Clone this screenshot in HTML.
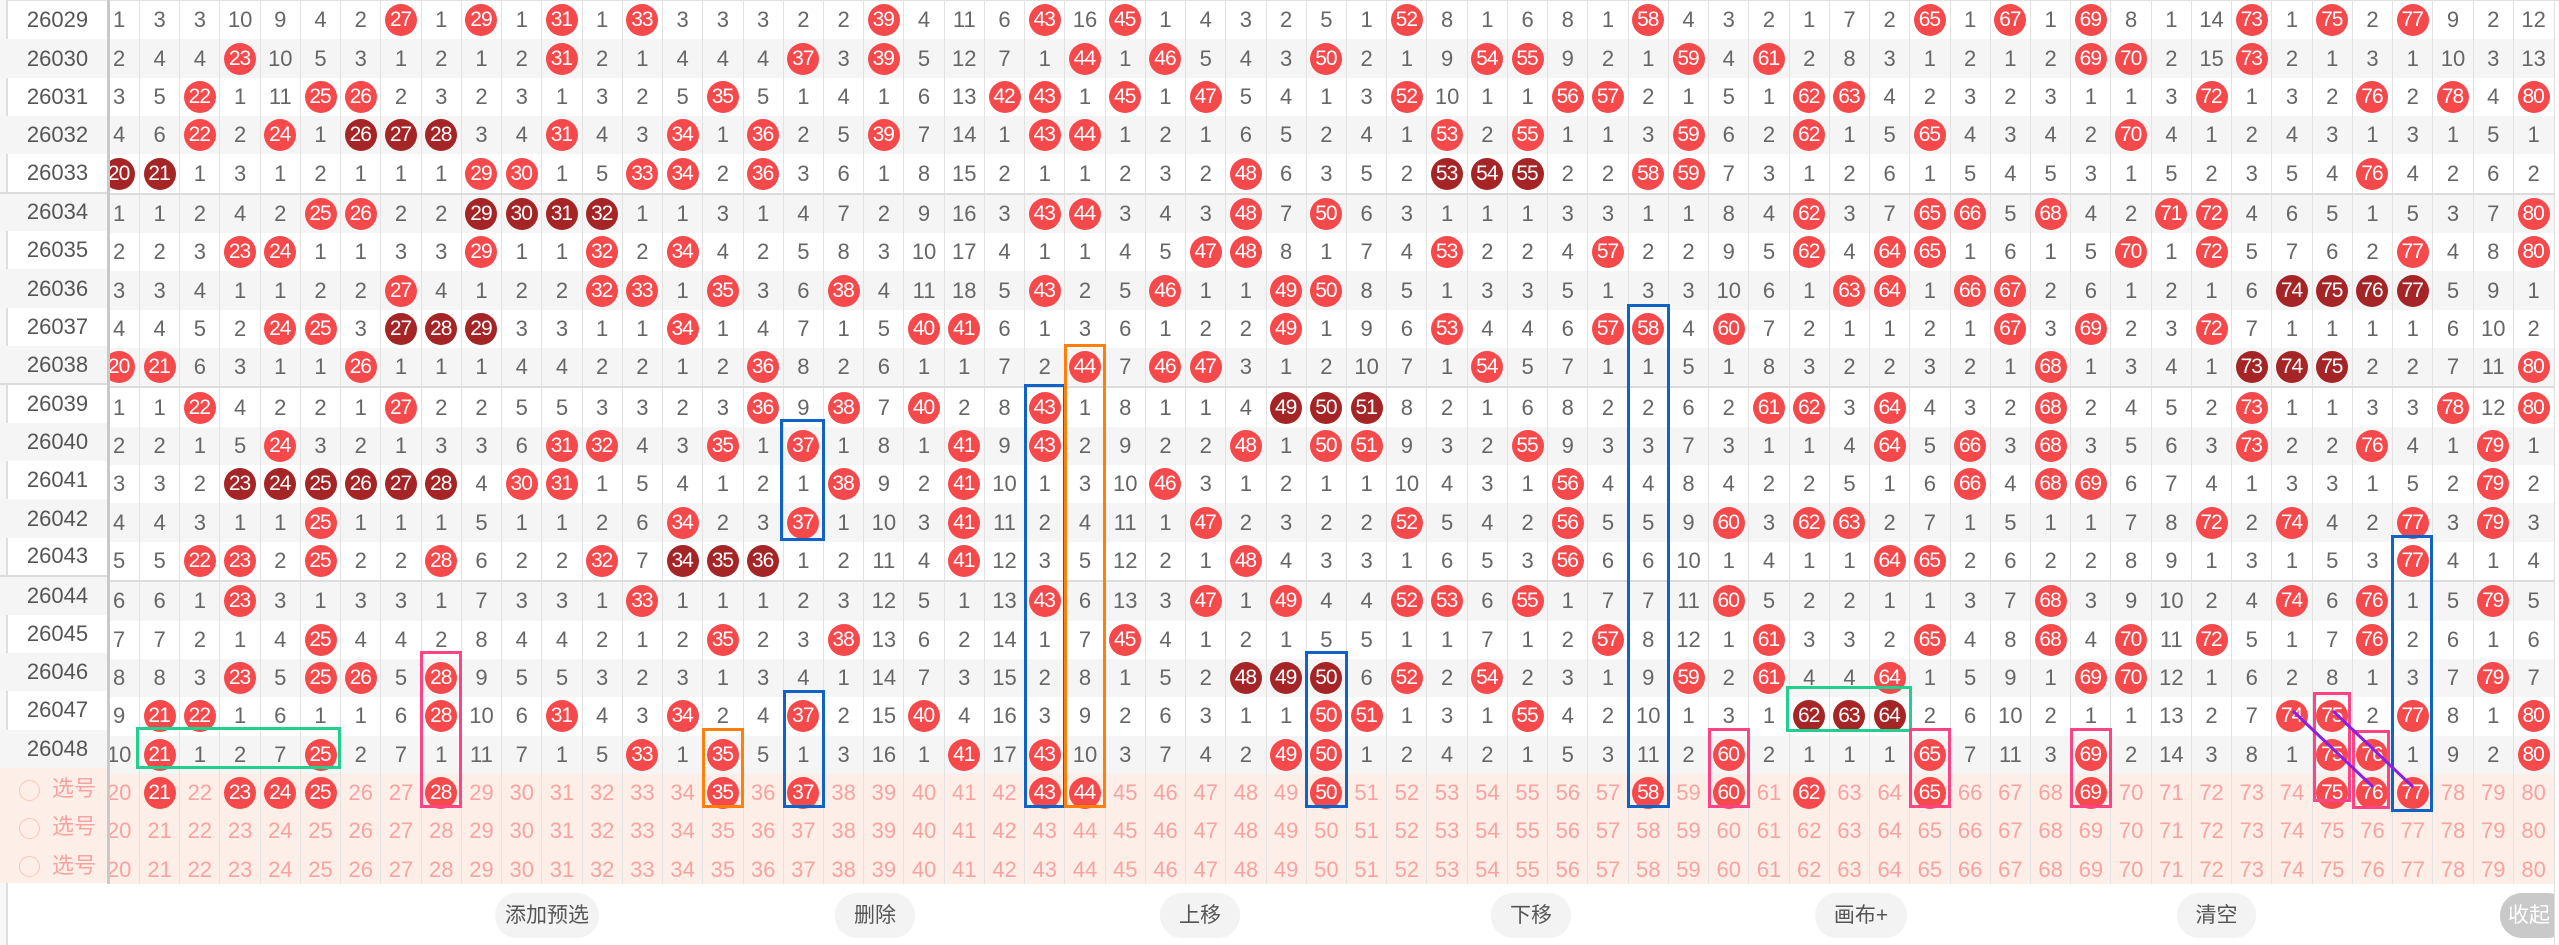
<!DOCTYPE html>
<html><head><meta charset="utf-8"><style>
html,body{margin:0;padding:0}
body{width:2559px;height:945px;background:#fff;position:relative;overflow:hidden;font-family:"Liberation Sans","Noto Sans CJK SC",sans-serif}
table{border-collapse:collapse;table-layout:fixed;position:absolute;border-spacing:0}
#G{position:absolute;left:110px;top:0;width:2445px;height:884px;overflow:hidden}
#D{left:-10.75px;top:1px;width:2455.25px}
#D td{height:38.35px;padding:0;text-align:center;vertical-align:middle;font-size:22px;color:#666;border:0;border-right:1px solid #e2e2e2;white-space:nowrap;overflow:visible}
#L{left:0;top:1px;width:107px}
#L td{width:107px;height:38.35px;padding:0 0 0 8px;box-sizing:border-box;text-align:center;font-size:22px;color:#555;border:0}
tr:nth-child(even){background:#f5f5f5}
tr.p{background:#fdeee8}
tr.p td{color:#f9a3a0 !important}
tr.s td{border-bottom:2px solid #dcdcdc !important}
b,i{display:inline-block;width:32px;height:32px;border-radius:50%;background:#f5494b;color:#fff;font-weight:normal;font-style:normal;line-height:32px;font-size:21px;letter-spacing:-1px;text-indent:-1px;vertical-align:middle}
i{background:#a52426}
.rd{display:inline-block;width:19px;height:19px;border:1.5px solid #fcc6b6;border-radius:50%;vertical-align:middle;margin-right:12px}
.bx{position:absolute;border:3px solid;box-sizing:border-box}
.bl{border-color:#0f63c8}.pk{border-color:#ff4384}.or{border-color:#ff7f0a}.gr{border-color:#22cf8e}
.btn{position:absolute;top:893px;height:45px;line-height:45px;border-radius:22px;background:#f3f3f3;color:#555;font-size:21px;text-align:center}
</style></head><body>
<div style="position:absolute;left:0;top:0;width:2559px;height:1px;background:#e2e2e2"></div>
<div style="position:absolute;left:0;top:0;width:6px;height:945px;background:#f7f7f7"></div>
<div style="position:absolute;left:6px;top:0;width:2px;height:945px;background:#dedede"></div>
<table id="L">
<tr><td>26029</td></tr><tr><td>26030</td></tr><tr><td>26031</td></tr><tr><td>26032</td></tr><tr class="s"><td>26033</td></tr>
<tr><td>26034</td></tr><tr><td>26035</td></tr><tr><td>26036</td></tr><tr><td>26037</td></tr><tr class="s"><td>26038</td></tr>
<tr><td>26039</td></tr><tr><td>26040</td></tr><tr><td>26041</td></tr><tr><td>26042</td></tr><tr class="s"><td>26043</td></tr>
<tr><td>26044</td></tr><tr><td>26045</td></tr><tr><td>26046</td></tr><tr><td>26047</td></tr><tr><td>26048</td></tr>
<tr class="p"><td><span class="rd"></span>选号</td></tr><tr class="p"><td><span class="rd"></span>选号</td></tr><tr class="p"><td><span class="rd"></span>选号</td></tr>
</table>
<div style="position:absolute;left:107px;top:0;width:3px;height:884px;background:#c9c9c9"></div>
<div id="G"><table id="D">
<tr><td>1<td>3<td>3<td>10<td>9<td>4<td>2<td><b>27</b><td>1<td><b>29</b><td>1<td><b>31</b><td>1<td><b>33</b><td>3<td>3<td>3<td>2<td>2<td><b>39</b><td>4<td>11<td>6<td><b>43</b><td>16<td><b>45</b><td>1<td>4<td>3<td>2<td>5<td>1<td><b>52</b><td>8<td>1<td>6<td>8<td>1<td><b>58</b><td>4<td>3<td>2<td>1<td>7<td>2<td><b>65</b><td>1<td><b>67</b><td>1<td><b>69</b><td>8<td>1<td>14<td><b>73</b><td>1<td><b>75</b><td>2<td><b>77</b><td>9<td>2<td>12</tr>
<tr><td>2<td>4<td>4<td><b>23</b><td>10<td>5<td>3<td>1<td>2<td>1<td>2<td><b>31</b><td>2<td>1<td>4<td>4<td>4<td><b>37</b><td>3<td><b>39</b><td>5<td>12<td>7<td>1<td><b>44</b><td>1<td><b>46</b><td>5<td>4<td>3<td><b>50</b><td>2<td>1<td>9<td><b>54</b><td><b>55</b><td>9<td>2<td>1<td><b>59</b><td>4<td><b>61</b><td>2<td>8<td>3<td>1<td>2<td>1<td>2<td><b>69</b><td><b>70</b><td>2<td>15<td><b>73</b><td>2<td>1<td>3<td>1<td>10<td>3<td>13</tr>
<tr><td>3<td>5<td><b>22</b><td>1<td>11<td><b>25</b><td><b>26</b><td>2<td>3<td>2<td>3<td>1<td>3<td>2<td>5<td><b>35</b><td>5<td>1<td>4<td>1<td>6<td>13<td><b>42</b><td><b>43</b><td>1<td><b>45</b><td>1<td><b>47</b><td>5<td>4<td>1<td>3<td><b>52</b><td>10<td>1<td>1<td><b>56</b><td><b>57</b><td>2<td>1<td>5<td>1<td><b>62</b><td><b>63</b><td>4<td>2<td>3<td>2<td>3<td>1<td>1<td>3<td><b>72</b><td>1<td>3<td>2<td><b>76</b><td>2<td><b>78</b><td>4<td><b>80</b></tr>
<tr><td>4<td>6<td><b>22</b><td>2<td><b>24</b><td>1<td><i>26</i><td><i>27</i><td><i>28</i><td>3<td>4<td><b>31</b><td>4<td>3<td><b>34</b><td>1<td><b>36</b><td>2<td>5<td><b>39</b><td>7<td>14<td>1<td><b>43</b><td><b>44</b><td>1<td>2<td>1<td>6<td>5<td>2<td>4<td>1<td><b>53</b><td>2<td><b>55</b><td>1<td>1<td>3<td><b>59</b><td>6<td>2<td><b>62</b><td>1<td>5<td><b>65</b><td>4<td>3<td>4<td>2<td><b>70</b><td>4<td>1<td>2<td>4<td>3<td>1<td>3<td>1<td>5<td>1</tr>
<tr class="s"><td><i>20</i><td><i>21</i><td>1<td>3<td>1<td>2<td>1<td>1<td>1<td><b>29</b><td><b>30</b><td>1<td>5<td><b>33</b><td><b>34</b><td>2<td><b>36</b><td>3<td>6<td>1<td>8<td>15<td>2<td>1<td>1<td>2<td>3<td>2<td><b>48</b><td>6<td>3<td>5<td>2<td><i>53</i><td><i>54</i><td><i>55</i><td>2<td>2<td><b>58</b><td><b>59</b><td>7<td>3<td>1<td>2<td>6<td>1<td>5<td>4<td>5<td>3<td>1<td>5<td>2<td>3<td>5<td>4<td><b>76</b><td>4<td>2<td>6<td>2</tr>
<tr><td>1<td>1<td>2<td>4<td>2<td><b>25</b><td><b>26</b><td>2<td>2<td><i>29</i><td><i>30</i><td><i>31</i><td><i>32</i><td>1<td>1<td>3<td>1<td>4<td>7<td>2<td>9<td>16<td>3<td><b>43</b><td><b>44</b><td>3<td>4<td>3<td><b>48</b><td>7<td><b>50</b><td>6<td>3<td>1<td>1<td>1<td>3<td>3<td>1<td>1<td>8<td>4<td><b>62</b><td>3<td>7<td><b>65</b><td><b>66</b><td>5<td><b>68</b><td>4<td>2<td><b>71</b><td><b>72</b><td>4<td>6<td>5<td>1<td>5<td>3<td>7<td><b>80</b></tr>
<tr><td>2<td>2<td>3<td><b>23</b><td><b>24</b><td>1<td>1<td>3<td>3<td><b>29</b><td>1<td>1<td><b>32</b><td>2<td><b>34</b><td>4<td>2<td>5<td>8<td>3<td>10<td>17<td>4<td>1<td>1<td>4<td>5<td><b>47</b><td><b>48</b><td>8<td>1<td>7<td>4<td><b>53</b><td>2<td>2<td>4<td><b>57</b><td>2<td>2<td>9<td>5<td><b>62</b><td>4<td><b>64</b><td><b>65</b><td>1<td>6<td>1<td>5<td><b>70</b><td>1<td><b>72</b><td>5<td>7<td>6<td>2<td><b>77</b><td>4<td>8<td><b>80</b></tr>
<tr><td>3<td>3<td>4<td>1<td>1<td>2<td>2<td><b>27</b><td>4<td>1<td>2<td>2<td><b>32</b><td><b>33</b><td>1<td><b>35</b><td>3<td>6<td><b>38</b><td>4<td>11<td>18<td>5<td><b>43</b><td>2<td>5<td><b>46</b><td>1<td>1<td><b>49</b><td><b>50</b><td>8<td>5<td>1<td>3<td>3<td>5<td>1<td>3<td>3<td>10<td>6<td>1<td><b>63</b><td><b>64</b><td>1<td><b>66</b><td><b>67</b><td>2<td>6<td>1<td>2<td>1<td>6<td><i>74</i><td><i>75</i><td><i>76</i><td><i>77</i><td>5<td>9<td>1</tr>
<tr><td>4<td>4<td>5<td>2<td><b>24</b><td><b>25</b><td>3<td><i>27</i><td><i>28</i><td><i>29</i><td>3<td>3<td>1<td>1<td><b>34</b><td>1<td>4<td>7<td>1<td>5<td><b>40</b><td><b>41</b><td>6<td>1<td>3<td>6<td>1<td>2<td>2<td><b>49</b><td>1<td>9<td>6<td><b>53</b><td>4<td>4<td>6<td><b>57</b><td><b>58</b><td>4<td><b>60</b><td>7<td>2<td>1<td>1<td>2<td>1<td><b>67</b><td>3<td><b>69</b><td>2<td>3<td><b>72</b><td>7<td>1<td>1<td>1<td>1<td>6<td>10<td>2</tr>
<tr class="s"><td><b>20</b><td><b>21</b><td>6<td>3<td>1<td>1<td><b>26</b><td>1<td>1<td>1<td>4<td>4<td>2<td>2<td>1<td>2<td><b>36</b><td>8<td>2<td>6<td>1<td>1<td>7<td>2<td><b>44</b><td>7<td><b>46</b><td><b>47</b><td>3<td>1<td>2<td>10<td>7<td>1<td><b>54</b><td>5<td>7<td>1<td>1<td>5<td>1<td>8<td>3<td>2<td>2<td>3<td>2<td>1<td><b>68</b><td>1<td>3<td>4<td>1<td><i>73</i><td><i>74</i><td><i>75</i><td>2<td>2<td>7<td>11<td><b>80</b></tr>
<tr><td>1<td>1<td><b>22</b><td>4<td>2<td>2<td>1<td><b>27</b><td>2<td>2<td>5<td>5<td>3<td>3<td>2<td>3<td><b>36</b><td>9<td><b>38</b><td>7<td><b>40</b><td>2<td>8<td><b>43</b><td>1<td>8<td>1<td>1<td>4<td><i>49</i><td><i>50</i><td><i>51</i><td>8<td>2<td>1<td>6<td>8<td>2<td>2<td>6<td>2<td><b>61</b><td><b>62</b><td>3<td><b>64</b><td>4<td>3<td>2<td><b>68</b><td>2<td>4<td>5<td>2<td><b>73</b><td>1<td>1<td>3<td>3<td><b>78</b><td>12<td><b>80</b></tr>
<tr><td>2<td>2<td>1<td>5<td><b>24</b><td>3<td>2<td>1<td>3<td>3<td>6<td><b>31</b><td><b>32</b><td>4<td>3<td><b>35</b><td>1<td><b>37</b><td>1<td>8<td>1<td><b>41</b><td>9<td><b>43</b><td>2<td>9<td>2<td>2<td><b>48</b><td>1<td><b>50</b><td><b>51</b><td>9<td>3<td>2<td><b>55</b><td>9<td>3<td>3<td>7<td>3<td>1<td>1<td>4<td><b>64</b><td>5<td><b>66</b><td>3<td><b>68</b><td>3<td>5<td>6<td>3<td><b>73</b><td>2<td>2<td><b>76</b><td>4<td>1<td><b>79</b><td>1</tr>
<tr><td>3<td>3<td>2<td><i>23</i><td><i>24</i><td><i>25</i><td><i>26</i><td><i>27</i><td><i>28</i><td>4<td><b>30</b><td><b>31</b><td>1<td>5<td>4<td>1<td>2<td>1<td><b>38</b><td>9<td>2<td><b>41</b><td>10<td>1<td>3<td>10<td><b>46</b><td>3<td>1<td>2<td>1<td>1<td>10<td>4<td>3<td>1<td><b>56</b><td>4<td>4<td>8<td>4<td>2<td>2<td>5<td>1<td>6<td><b>66</b><td>4<td><b>68</b><td><b>69</b><td>6<td>7<td>4<td>1<td>3<td>3<td>1<td>5<td>2<td><b>79</b><td>2</tr>
<tr><td>4<td>4<td>3<td>1<td>1<td><b>25</b><td>1<td>1<td>1<td>5<td>1<td>1<td>2<td>6<td><b>34</b><td>2<td>3<td><b>37</b><td>1<td>10<td>3<td><b>41</b><td>11<td>2<td>4<td>11<td>1<td><b>47</b><td>2<td>3<td>2<td>2<td><b>52</b><td>5<td>4<td>2<td><b>56</b><td>5<td>5<td>9<td><b>60</b><td>3<td><b>62</b><td><b>63</b><td>2<td>7<td>1<td>5<td>1<td>1<td>7<td>8<td><b>72</b><td>2<td><b>74</b><td>4<td>2<td><b>77</b><td>3<td><b>79</b><td>3</tr>
<tr class="s"><td>5<td>5<td><b>22</b><td><b>23</b><td>2<td><b>25</b><td>2<td>2<td><b>28</b><td>6<td>2<td>2<td><b>32</b><td>7<td><i>34</i><td><i>35</i><td><i>36</i><td>1<td>2<td>11<td>4<td><b>41</b><td>12<td>3<td>5<td>12<td>2<td>1<td><b>48</b><td>4<td>3<td>3<td>1<td>6<td>5<td>3<td><b>56</b><td>6<td>6<td>10<td>1<td>4<td>1<td>1<td><b>64</b><td><b>65</b><td>2<td>6<td>2<td>2<td>8<td>9<td>1<td>3<td>1<td>5<td>3<td><b>77</b><td>4<td>1<td>4</tr>
<tr><td>6<td>6<td>1<td><b>23</b><td>3<td>1<td>3<td>3<td>1<td>7<td>3<td>3<td>1<td><b>33</b><td>1<td>1<td>1<td>2<td>3<td>12<td>5<td>1<td>13<td><b>43</b><td>6<td>13<td>3<td><b>47</b><td>1<td><b>49</b><td>4<td>4<td><b>52</b><td><b>53</b><td>6<td><b>55</b><td>1<td>7<td>7<td>11<td><b>60</b><td>5<td>2<td>2<td>1<td>1<td>3<td>7<td><b>68</b><td>3<td>9<td>10<td>2<td>4<td><b>74</b><td>6<td><b>76</b><td>1<td>5<td><b>79</b><td>5</tr>
<tr><td>7<td>7<td>2<td>1<td>4<td><b>25</b><td>4<td>4<td>2<td>8<td>4<td>4<td>2<td>1<td>2<td><b>35</b><td>2<td>3<td><b>38</b><td>13<td>6<td>2<td>14<td>1<td>7<td><b>45</b><td>4<td>1<td>2<td>1<td>5<td>5<td>1<td>1<td>7<td>1<td>2<td><b>57</b><td>8<td>12<td>1<td><b>61</b><td>3<td>3<td>2<td><b>65</b><td>4<td>8<td><b>68</b><td>4<td><b>70</b><td>11<td><b>72</b><td>5<td>1<td>7<td><b>76</b><td>2<td>6<td>1<td>6</tr>
<tr><td>8<td>8<td>3<td><b>23</b><td>5<td><b>25</b><td><b>26</b><td>5<td><b>28</b><td>9<td>5<td>5<td>3<td>2<td>3<td>1<td>3<td>4<td>1<td>14<td>7<td>3<td>15<td>2<td>8<td>1<td>5<td>2<td><i>48</i><td><i>49</i><td><i>50</i><td>6<td><b>52</b><td>2<td><b>54</b><td>2<td>3<td>1<td>9<td><b>59</b><td>2<td><b>61</b><td>4<td>4<td><b>64</b><td>1<td>5<td>9<td>1<td><b>69</b><td><b>70</b><td>12<td>1<td>6<td>2<td>8<td>1<td>3<td>7<td><b>79</b><td>7</tr>
<tr><td>9<td><b>21</b><td><b>22</b><td>1<td>6<td>1<td>1<td>6<td><b>28</b><td>10<td>6<td><b>31</b><td>4<td>3<td><b>34</b><td>2<td>4<td><b>37</b><td>2<td>15<td><b>40</b><td>4<td>16<td>3<td>9<td>2<td>6<td>3<td>1<td>1<td><b>50</b><td><b>51</b><td>1<td>3<td>1<td><b>55</b><td>4<td>2<td>10<td>1<td>3<td>1<td><i>62</i><td><i>63</i><td><i>64</i><td>2<td>6<td>10<td>2<td>1<td>1<td>13<td>2<td>7<td><b>74</b><td><b>75</b><td>2<td><b>77</b><td>8<td>1<td><b>80</b></tr>
<tr><td>10<td><b>21</b><td>1<td>2<td>7<td><b>25</b><td>2<td>7<td>1<td>11<td>7<td>1<td>5<td><b>33</b><td>1<td><b>35</b><td>5<td>1<td>3<td>16<td>1<td><b>41</b><td>17<td><b>43</b><td>10<td>3<td>7<td>4<td>2<td><b>49</b><td><b>50</b><td>1<td>2<td>4<td>2<td>1<td>5<td>3<td>11<td>2<td><b>60</b><td>2<td>1<td>1<td>1<td><b>65</b><td>7<td>11<td>3<td><b>69</b><td>2<td>14<td>3<td>8<td>1<td><b>75</b><td><b>76</b><td>1<td>9<td>2<td><b>80</b></tr>
<tr class="p"><td>20<td><b>21</b><td>22<td><b>23</b><td><b>24</b><td><b>25</b><td>26<td>27<td><b>28</b><td>29<td>30<td>31<td>32<td>33<td>34<td><b>35</b><td>36<td><b>37</b><td>38<td>39<td>40<td>41<td>42<td><b>43</b><td><b>44</b><td>45<td>46<td>47<td>48<td>49<td><b>50</b><td>51<td>52<td>53<td>54<td>55<td>56<td>57<td><b>58</b><td>59<td><b>60</b><td>61<td><b>62</b><td>63<td>64<td><b>65</b><td>66<td>67<td>68<td><b>69</b><td>70<td>71<td>72<td>73<td>74<td><b>75</b><td><b>76</b><td><b>77</b><td>78<td>79<td>80</tr>
<tr class="p"><td>20<td>21<td>22<td>23<td>24<td>25<td>26<td>27<td>28<td>29<td>30<td>31<td>32<td>33<td>34<td>35<td>36<td>37<td>38<td>39<td>40<td>41<td>42<td>43<td>44<td>45<td>46<td>47<td>48<td>49<td>50<td>51<td>52<td>53<td>54<td>55<td>56<td>57<td>58<td>59<td>60<td>61<td>62<td>63<td>64<td>65<td>66<td>67<td>68<td>69<td>70<td>71<td>72<td>73<td>74<td>75<td>76<td>77<td>78<td>79<td>80</tr>
<tr class="p"><td>20<td>21<td>22<td>23<td>24<td>25<td>26<td>27<td>28<td>29<td>30<td>31<td>32<td>33<td>34<td>35<td>36<td>37<td>38<td>39<td>40<td>41<td>42<td>43<td>44<td>45<td>46<td>47<td>48<td>49<td>50<td>51<td>52<td>53<td>54<td>55<td>56<td>57<td>58<td>59<td>60<td>61<td>62<td>63<td>64<td>65<td>66<td>67<td>68<td>69<td>70<td>71<td>72<td>73<td>74<td>75<td>76<td>77<td>78<td>79<td>80</tr>
</table></div>
<div class="bx gr" style="left:136px;top:727px;width:205px;height:42px"></div>
<div class="bx pk" style="left:420px;top:651px;width:42px;height:157px"></div>
<div class="bx or" style="left:702px;top:728px;width:42px;height:80px"></div>
<div class="bx bl" style="left:780px;top:419px;width:45px;height:122px"></div>
<div class="bx bl" style="left:783px;top:690px;width:42px;height:118px"></div>
<div class="bx bl" style="left:1024px;top:384px;width:42px;height:424px"></div>
<div class="bx or" style="left:1064px;top:344px;width:42px;height:464px"></div>
<div class="bx bl" style="left:1305px;top:651px;width:43px;height:157px"></div>
<div class="bx bl" style="left:1627px;top:304px;width:43px;height:504px"></div>
<div class="bx pk" style="left:1708px;top:728px;width:42px;height:80px"></div>
<div class="bx gr" style="left:1786px;top:686px;width:126px;height:46px"></div>
<div class="bx pk" style="left:1909px;top:728px;width:42px;height:80px"></div>
<div class="bx pk" style="left:2070px;top:728px;width:42px;height:80px"></div>
<div class="bx pk" style="left:2313px;top:692px;width:38px;height:110px"></div>
<div class="bx pk" style="left:2352px;top:730px;width:38px;height:79px"></div>
<div class="bx bl" style="left:2391px;top:535px;width:42px;height:277px"></div>
<svg style="position:absolute;left:0;top:0" width="2559" height="945"><line x1="2293" y1="711" x2="2373" y2="787" stroke="#8a1fe6" stroke-width="3"/><line x1="2333" y1="711" x2="2413" y2="787" stroke="#8a1fe6" stroke-width="3"/></svg>
<div style="position:absolute;left:2554px;top:0;width:1px;height:945px;background:#e0e0e0"></div>
<div class="btn" style="left:495px;width:104px">添加预选</div>
<div class="btn" style="left:835px;width:80px">删除</div>
<div class="btn" style="left:1160px;width:80px">上移</div>
<div class="btn" style="left:1491px;width:80px">下移</div>
<div class="btn" style="left:1815px;width:92px">画布+</div>
<div class="btn" style="left:2177px;width:79px">清空</div>
<div style="position:absolute;left:2500px;top:893px;width:54px;height:45px;overflow:hidden"><div class="btn" style="top:0;left:0;width:70px;background:#c9c9c9;color:#fff;text-align:left;padding-left:8px;box-sizing:border-box">收起</div></div>
</body></html>
